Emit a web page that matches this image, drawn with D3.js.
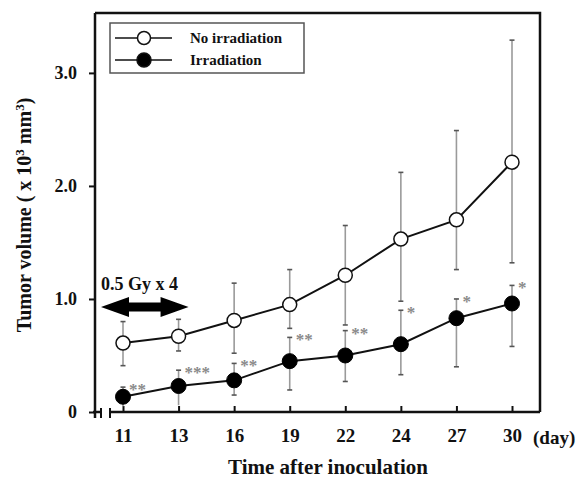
<!DOCTYPE html>
<html>
<head>
<meta charset="utf-8">
<script src="https://cdn.jsdelivr.net/npm/d3@7"></script>
<style>
  html, body { margin: 0; padding: 0; background: #fff; }
  svg { display: block; }
  text { font-family: "Liberation Serif", "Times New Roman", serif; font-weight: bold; fill: #111; }
</style>
</head>
<body>
<svg id="chart" width="584" height="479"></svg>
<script>
// ---- data ----
const days = ["11", "13", "16", "19", "22", "24", "27", "30"];
const noIrr      = [0.61, 0.67, 0.81, 0.95, 1.21, 1.53, 1.70, 2.21];
const noIrrUpper = [0.80, 0.82, 1.14, 1.26, 1.65, 2.12, 2.49, 3.29];
const noIrrLower = [0.41, 0.54, 0.52, 0.74, 0.77, 0.98, 1.26, 1.32];
const irr        = [0.135, 0.23, 0.28, 0.45, 0.50, 0.60, 0.83, 0.96];
const irrUpper   = [0.22, 0.37, 0.43, 0.66, 0.72, 0.90, 1.00, 1.12];
const irrLower   = [0.05, 0.06, 0.15, 0.195, 0.27, 0.33, 0.40, 0.58];
const signif     = ["**", "***", "**", "**", "**", "*", "*", "*"];
const yTicks     = [0, 1, 2, 3];
const yTickLabels = ["0", "1.0", "2.0", "3.0"];
const seriesNames = ["No irradiation", "Irradiation"];
const treatmentLabel = "0.5 Gy x 4";
const treatmentLevel = 0.93;
const treatmentDays = ["11", "13"];

// ---- layout ----
const svg = d3.select("#chart");
const pL = 95, pR = 540, pT = 13, pB = 412;
const yMax = 3.53;
const x = d3.scalePoint().domain(days).range([123, 512]);
const y = d3.scaleLinear().domain([0, yMax]).range([pB, pT]);

// frame (top + right)
svg.append("path")
  .attr("d", `M${pL},${pT}H${pR}V${pB}`)
  .attr("fill", "none").attr("stroke", "#111").attr("stroke-width", 2.5);

// y axis
const yAxis = d3.axisLeft(y).tickValues(yTicks)
  .tickFormat((d, i) => yTickLabels[i]).tickSize(6).tickPadding(12);
const gy = svg.append("g").attr("transform", `translate(${pL},0)`).call(yAxis);
gy.select(".domain").remove();
gy.selectAll(".tick line").attr("stroke", "#111").attr("stroke-width", 2);
gy.selectAll(".tick text").style("font-size", "18px").attr("fill", "#111")
  .style("font-family", "'Liberation Serif', serif").style("font-weight", "bold");
svg.append("line").attr("x1", pL).attr("x2", pL).attr("y1", pT).attr("y2", pB + 6)
  .attr("stroke", "#111").attr("stroke-width", 2.5);

// x axis (ticks inward)
const xAxis = d3.axisBottom(x).tickSize(-6).tickPadding(17);
const gx = svg.append("g").attr("transform", `translate(0,${pB})`).call(xAxis);
gx.select(".domain").remove();
gx.selectAll(".tick line").attr("stroke", "#111").attr("stroke-width", 2);
gx.selectAll(".tick text").style("font-size", "19px").attr("fill", "#111")
  .style("font-family", "'Liberation Serif', serif").style("font-weight", "bold");
// axis baseline with break
svg.append("line").attr("x1", pL - 2).attr("x2", 101).attr("y1", pB).attr("y2", pB)
  .attr("stroke", "#111").attr("stroke-width", 2.5);
svg.append("line").attr("x1", 110).attr("x2", pR).attr("y1", pB).attr("y2", pB)
  .attr("stroke", "#111").attr("stroke-width", 2.5);
[101, 110].forEach(bx => {
  svg.append("line").attr("x1", bx).attr("x2", bx).attr("y1", pB - 4).attr("y2", pB + 6)
    .attr("stroke", "#111").attr("stroke-width", 2);
});

// axis titles
svg.append("text").attr("x", 533).attr("y", 444).style("font-size", "19px").text("(day)");
svg.append("text").attr("x", 328).attr("y", 474).attr("text-anchor", "middle")
  .style("font-size", "21px").text("Time after inoculation");
const yt = svg.append("text").attr("transform", "translate(31,215) rotate(-90)")
  .attr("text-anchor", "middle").style("font-size", "20px");
yt.append("tspan").text("Tumor volume ( x 10");
yt.append("tspan").attr("dy", -7).style("font-size", "13px").text("3");
yt.append("tspan").attr("dy", 7).text(" mm");
yt.append("tspan").attr("dy", -7).style("font-size", "13px").text("3");
yt.append("tspan").attr("dy", 7).text(")");

// error bars
function errorBars(vals, up, lo) {
  const g = svg.append("g");
  days.forEach((d, i) => {
    g.append("line").attr("x1", x(d)).attr("x2", x(d))
      .attr("y1", y(up[i])).attr("y2", y(Math.max(lo[i], 0)))
      .attr("stroke", "#9a9a9a").attr("stroke-width", 1.6);
    [up[i], lo[i]].forEach(v => {
      if (v <= 0.06) return;
      g.append("line").attr("x1", x(d) - 2.5).attr("x2", x(d) + 2.5)
        .attr("y1", y(v)).attr("y2", y(v))
        .attr("stroke", "#555").attr("stroke-width", 1.6);
    });
  });
}
errorBars(noIrr, noIrrUpper, noIrrLower);
errorBars(irr, irrUpper, irrLower);

// lines
const line = d3.line().x((d, i) => x(days[i])).y(d => y(d));
svg.append("path").datum(noIrr).attr("d", line).attr("fill", "none")
  .attr("stroke", "#111").attr("stroke-width", 2);
svg.append("path").datum(irr).attr("d", line).attr("fill", "none")
  .attr("stroke", "#111").attr("stroke-width", 2);

// markers
svg.append("g").selectAll("circle").data(noIrr).join("circle")
  .attr("cx", (d, i) => x(days[i])).attr("cy", d => y(d)).attr("r", 7)
  .attr("fill", "#fff").attr("stroke", "#111").attr("stroke-width", 1.5);
svg.append("g").selectAll("circle").data(irr).join("circle")
  .attr("cx", (d, i) => x(days[i])).attr("cy", d => y(d)).attr("r", 7.5)
  .attr("fill", "#000").attr("stroke", "#000").attr("stroke-width", 1);

// significance marks
svg.append("g").selectAll("text").data(signif).join("text")
  .attr("x", (d, i) => x(days[i]) + 6)
  .attr("y", (d, i) => y(irrUpper[i]) + 8)
  .style("font-size", "17px").style("fill", "#8a8a8a")
  .text(d => d);

// treatment arrow
const ax0 = x(treatmentDays[0]) - 22, ax1 = x(treatmentDays[1]) + 10, ay = y(treatmentLevel);
const hl = 28, hh = 10, sh = 4.5;
svg.append("path")
  .attr("d", `M${ax0},${ay} L${ax0 + hl},${ay - hh} L${ax0 + hl},${ay - sh} L${ax1 - hl},${ay - sh}
    L${ax1 - hl},${ay - hh} L${ax1},${ay} L${ax1 - hl},${ay + hh} L${ax1 - hl},${ay + sh}
    L${ax0 + hl},${ay + sh} L${ax0 + hl},${ay + hh} Z`)
  .attr("fill", "#000");
svg.append("text").attr("x", ax0).attr("y", ay - 17).style("font-size", "18px").text(treatmentLabel);

// legend
const lg = svg.append("g");
lg.append("rect").attr("x", 110).attr("y", 23).attr("width", 194).attr("height", 50)
  .attr("fill", "#fff").attr("stroke", "#555").attr("stroke-width", 1.5);
seriesNames.forEach((name, i) => {
  const ly = 38 + i * 22;
  lg.append("line").attr("x1", 115).attr("x2", 172).attr("y1", ly).attr("y2", ly)
    .attr("stroke", "#111").attr("stroke-width", 1.5);
  lg.append("circle").attr("cx", 144).attr("cy", ly).attr("r", i === 0 ? 6.5 : 7)
    .attr("fill", i === 0 ? "#fff" : "#000").attr("stroke", "#111").attr("stroke-width", 1.5);
  lg.append("text").attr("x", 190).attr("y", ly + 5).style("font-size", "15px").text(name);
});
</script>
</body>
</html>
